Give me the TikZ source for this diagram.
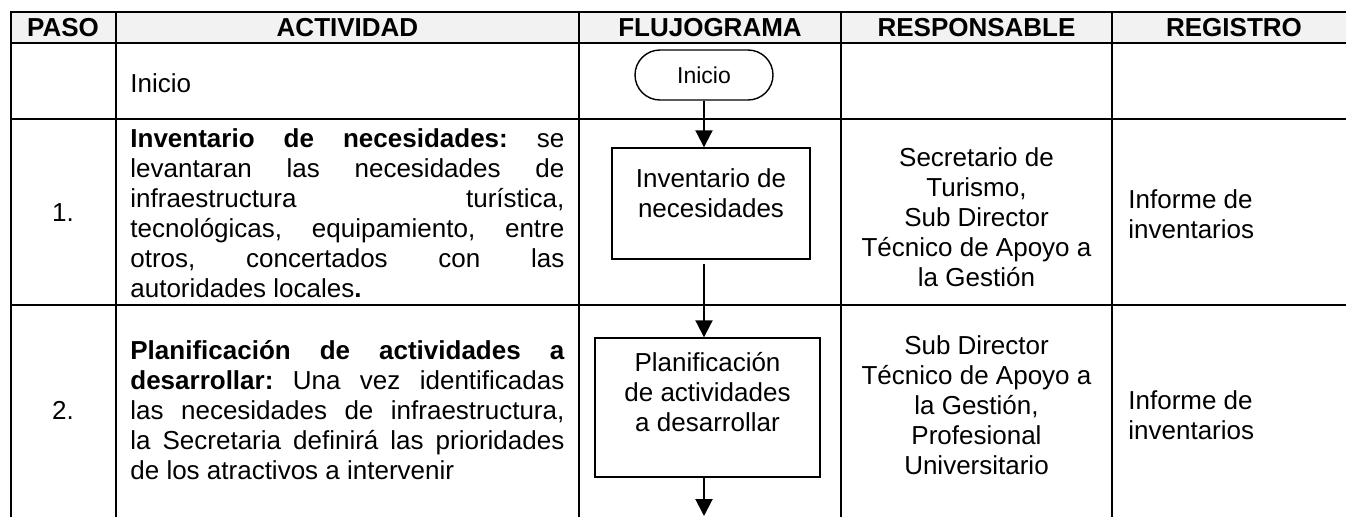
\documentclass[tikz,border=0pt]{standalone}
\usepackage{fontspec}
\setmainfont{Liberation Sans}
\usepackage{xcolor}
\usepackage{tikz}
\usetikzlibrary{arrows.meta}
\definecolor{headbg}{HTML}{F2F2F2}
\definecolor{ink}{HTML}{000000}
\tolerance=10000
\hbadness=10000
\frenchspacing
\tikzset{
  grid/.style={draw=ink, line width=1.2pt, line cap=rect},
  head/.style={text=ink, font=\bfseries\fontsize{13}{15}\selectfont, inner sep=0pt},
  txt/.style={text=ink, font=\fontsize{13}{15}\selectfont, inner sep=0pt},
  bloque/.style={txt, text width=217pt, align=justify, anchor=west},
  caja/.style={draw=ink, line width=0.7pt, txt, align=center},
  term/.style={draw=ink, line width=0.7pt, rounded corners=12.5pt, minimum width=69pt,
    minimum height=25pt, inner sep=0pt, font=\fontsize{11.5}{13}\selectfont},
  flecha/.style={draw=ink, line width=1pt, -{Triangle[width=8.5pt,length=8.5pt]}}
}
\begin{document}
\begin{tikzpicture}[x=0.5pt,y=-0.5pt]
  \useasboundingbox (0,0) rectangle (1346,516);
  \begin{scope}
    \clip (0,0) rectangle (1346,516);
    \fill[headbg] (11,12) rectangle (1360,43);
    \foreach \y in {12,43,119,305} \draw[grid] (11,\y) -- (1360,\y);
    \foreach \x in {11,116,579,841,1112} \draw[grid] (\x,12) -- (\x,530);
  \end{scope}
  \node[head] (paso) at (63,28) {PASO};
  \node[head] (act) at (347.5,28) {ACTIVIDAD};
  \node[head] (flujo) at (710,28) {FLUJOGRAMA};
  \node[head] (resp) at (976.5,28) {RESPONSABLE};
  \node[head] (reg) at (1234,28) {REGISTRO};
  % inicio
  \node[txt, anchor=west] (a0) at (130,83) {Inicio};
  \node[term] (ini) at (704,75) {Inicio};
  % paso 1
  \node[txt] (p1) at (63,213) {1.};
  \node[bloque] (a1) at (130,213) {\textbf{Inventario de necesidades:} se\linebreak
    levantaran las necesidades de\linebreak infraestructura turística,\linebreak
    tecnológicas, equipamiento, entre\linebreak otros, concertados con las\linebreak
    autoridades locales\textbf{.}};
  \node[caja, minimum width=99pt, minimum height=55.5pt, text depth=10pt] (inv) at (711,203.5) {Inventario de\\necesidades};
  \node[txt, align=center] (r1) at (976.5,217) {Secretario de\\Turismo,\\Sub Director\\Técnico de Apoyo a\\la Gestión};
  \node[txt, align=left, anchor=west] (g1) at (1128,214) {Informe de\\inventarios};
  % paso 2
  \node[txt] (p2) at (63,410) {2.};
  \node[bloque] (a2) at (130,410) {\textbf{Planificación de actividades a}\linebreak
    \textbf{desarrollar:} Una vez identificadas\linebreak las necesidades de infraestructura,\linebreak
    la Secretaria definirá las prioridades\linebreak de los atractivos a intervenir};
  \node[caja, minimum width=112.5pt, minimum height=69.5pt, text depth=16pt] (plan) at (707.5,407.5) {Planificación\\de actividades\\a desarrollar};
  \node[txt, align=center] (r2) at (976.5,405) {Sub Director\\Técnico de Apoyo a\\la Gestión,\\Profesional\\Universitario};
  \node[txt, align=left, anchor=west] (g2) at (1128,415) {Informe de\\inventarios};
  \coordinate (fin) at (704,516);
  \draw[flecha] (ini.south) -- (ini.south |- inv.north);
  \draw[flecha] ([yshift=-2pt]inv.south -| ini.south) -- (ini.south |- plan.north);
  \draw[flecha] (plan.south -| ini.south) -- (fin);
\end{tikzpicture}
\end{document}
